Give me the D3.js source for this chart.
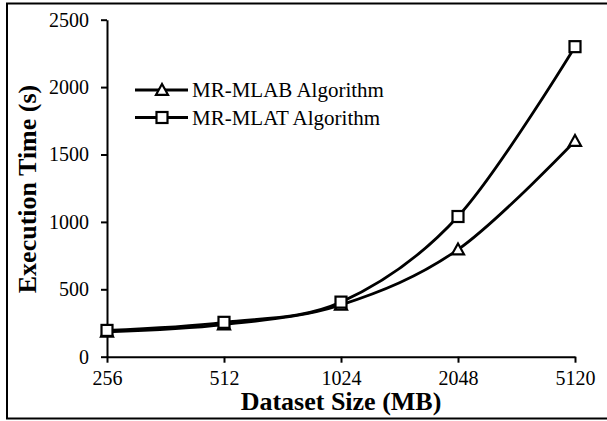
<!DOCTYPE html>
<html>
<head>
<meta charset="utf-8">
<script src="https://cdn.jsdelivr.net/npm/d3@7"></script>
<style>
  html, body { margin: 0; padding: 0; background: #fff; }
  svg { display: block; }
  svg text { font-family: "Liberation Serif", "Times New Roman", serif; fill: #000; }
</style>
</head>
<body>
<div id="chart"></div>
<script>
// ── Data ─────────────────────────────────────────────
const sizes = ["256", "512", "1024", "2048", "5120"];
const mlab  = [185, 238, 385, 795, 1600];   // MR-MLAB Algorithm (triangle)
const mlat  = [195, 255, 405, 1040, 2300];  // MR-MLAT Algorithm (square)
const yTicks = [0, 500, 1000, 1500, 2000, 2500];

const series = [
  { name: "MR-MLAB Algorithm", values: mlab, marker: "triangle" },
  { name: "MR-MLAT Algorithm", values: mlat, marker: "square" },
];

// ── Layout ───────────────────────────────────────────
const W = 607, H = 421;
const x0 = 107, x1 = 575, yTop = 19.7, yBot = 356.7;

const svg = d3.select("#chart").append("svg")
  .attr("width", W).attr("height", H);

// outer frame
svg.append("rect")
  .attr("x", 7).attr("y", 3.5).attr("width", 620).attr("height", 415)
  .attr("fill", "none").attr("stroke", "#000").attr("stroke-width", 2);

const x = d3.scalePoint().domain(sizes).range([x0, x1]);
const y = d3.scaleLinear().domain([0, 2500]).range([yBot, yTop]);

// axes
const yAxis = svg.append("g")
  .attr("transform", `translate(${x0},0)`)
  .call(d3.axisLeft(y).tickValues(yTicks).tickFormat(d3.format("d"))
    .tickSize(6).tickPadding(12).tickSizeOuter(0));
const xAxis = svg.append("g")
  .attr("transform", `translate(0,${yBot})`)
  .call(d3.axisBottom(x).tickSize(6).tickPadding(8).tickSizeOuter(0));

[xAxis, yAxis].forEach(g => {
  g.attr("font-family", null);
  g.select(".domain").attr("stroke", "#000").attr("stroke-width", 2);
  g.selectAll(".tick line").attr("stroke", "#000").attr("stroke-width", 2);
  g.selectAll(".tick text")
    .attr("fill", "#000")
    .attr("font-size", 20);
});

// axis titles
svg.append("text")
  .attr("x", 341).attr("y", 410)
  .attr("text-anchor", "middle")
  .attr("font-weight", "bold").attr("font-size", 26)
  .text("Dataset Size (MB)");

svg.append("text")
  .attr("transform", "translate(36,189) rotate(-90)")
  .attr("text-anchor", "middle")
  .attr("font-weight", "bold").attr("font-size", 26)
  .text("Execution Time (s)");

// ── Lines ────────────────────────────────────────────
const line = d3.line()
  .x((d, i) => x(sizes[i]))
  .y(d => y(d))
  .curve(d3.curveCardinal.tension(0));

function drawMarker(g, type, cx, cy) {
  if (type === "square") {
    g.append("rect")
      .attr("x", cx - 5.5).attr("y", cy - 5.5)
      .attr("width", 11).attr("height", 11)
      .attr("fill", "#fff").attr("stroke", "#000").attr("stroke-width", 2.2);
  } else {
    const s = 6;
    g.append("path")
      .attr("d", `M${cx},${cy - s}L${cx + s},${cy + s * 0.8}L${cx - s},${cy + s * 0.8}Z`)
      .attr("fill", "#fff").attr("stroke", "#000").attr("stroke-width", 2.2);
  }
}

series.forEach(s => {
  svg.append("path")
    .datum(s.values)
    .attr("fill", "none")
    .attr("stroke", "#000")
    .attr("stroke-width", 2.8)
    .attr("d", line);
});

series.forEach(s => {
  const g = svg.append("g");
  s.values.forEach((v, i) => drawMarker(g, s.marker, x(sizes[i]), y(v)));
});

// ── Legend ───────────────────────────────────────────
const legend = svg.append("g");
series.forEach((s, i) => {
  const ly = 90 + i * 27.5;
  legend.append("line")
    .attr("x1", 135).attr("x2", 188).attr("y1", ly).attr("y2", ly)
    .attr("stroke", "#000").attr("stroke-width", 2.8);
  drawMarker(legend, s.marker, 162, ly);
  legend.append("text")
    .attr("x", 192).attr("y", ly + 7)
    .attr("font-size", 21)
    .text(s.name);
});
</script>
</body>
</html>
